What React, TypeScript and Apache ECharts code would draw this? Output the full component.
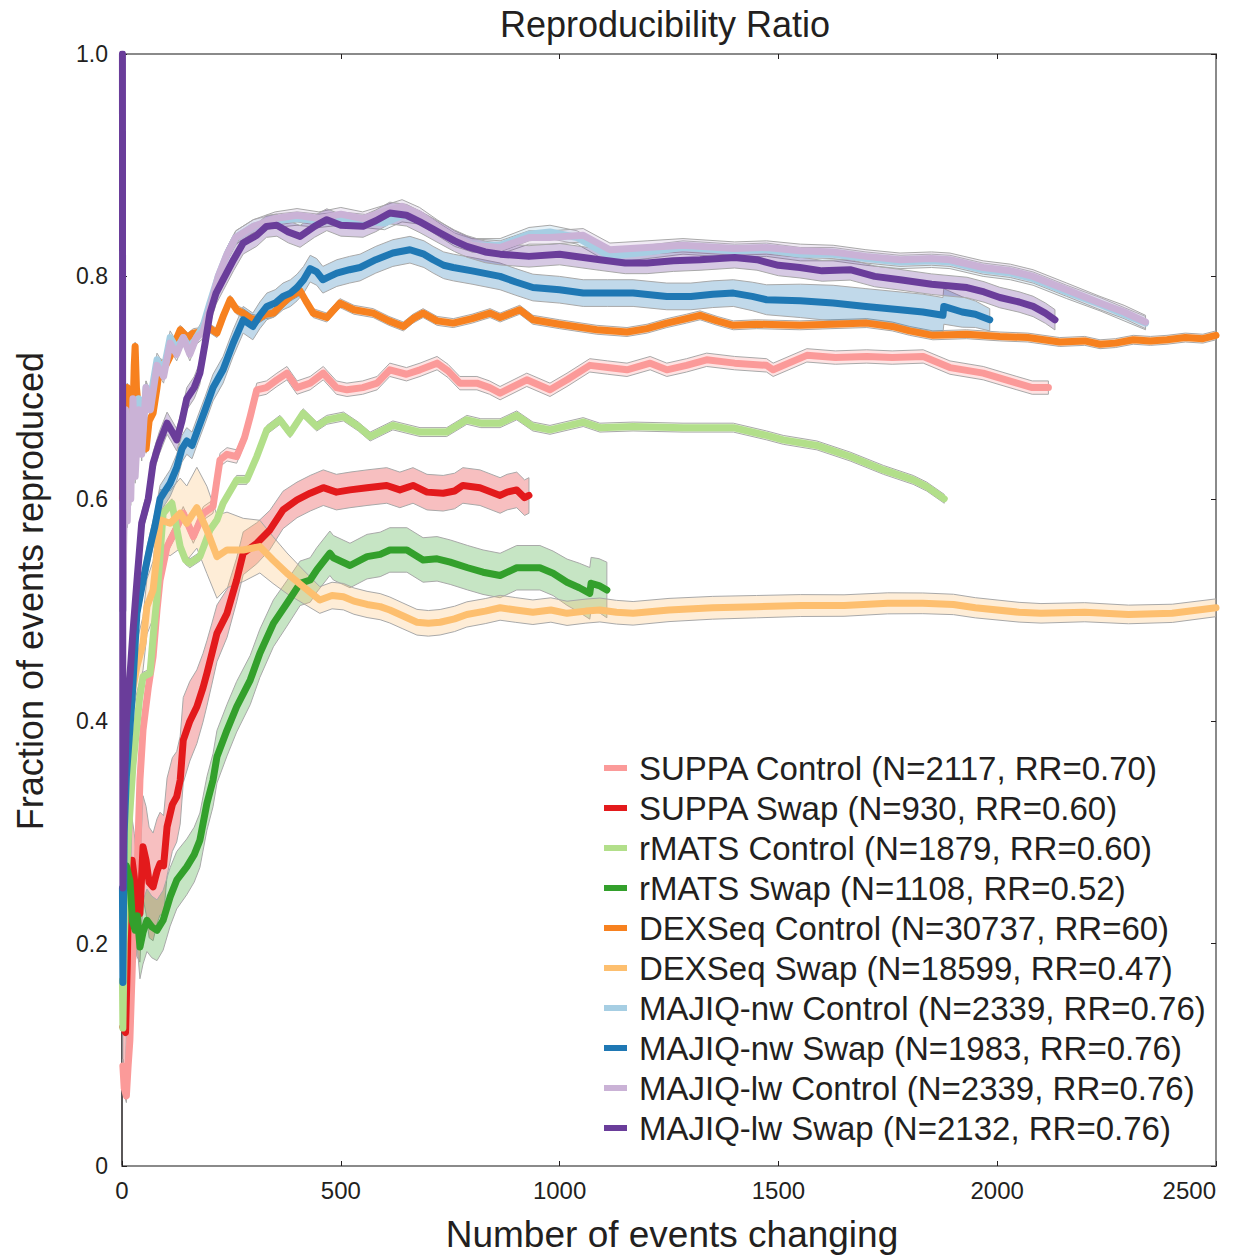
import React, { useEffect, useRef } from "react";
import * as echarts from "echarts";

// ---------- data (x = number of events changing, y = fraction reproduced) ----------
const seriesNames = [
  "SUPPA Control (N=2117, RR=0.70)",
  "SUPPA Swap (N=930, RR=0.60)",
  "rMATS Control (N=1879, RR=0.60)",
  "rMATS Swap (N=1108, RR=0.52)",
  "DEXSeq Control (N=30737, RR=60)",
  "DEXSeq Swap (N=18599, RR=0.47)",
  "MAJIQ-nw Control (N=2339, RR=0.76)",
  "MAJIQ-nw Swap (N=1983, RR=0.76)",
  "MAJIQ-lw Control (N=2339, RR=0.76)",
  "MAJIQ-lw Swap (N=2132, RR=0.76)",
];

const seriesColors = [
  "#fb9a99", "#e31a1c", "#b2df8a", "#33a02c", "#f7811f",
  "#fdbf6f", "#a6cee3", "#1f78b4", "#cab2d6", "#6a3d9a",
];

const xTicks = [0, 500, 1000, 1500, 2000, 2500];
const yTicks = [0, 0.2, 0.4, 0.6, 0.8, 1.0];

const suppaControl = [
  [2, 0.09], [5, 0.07], [10, 0.063], [14, 0.09], [18, 0.113], [25, 0.197], [30, 0.23], [34, 0.257],
  [41, 0.347], [48, 0.392], [60, 0.43], [71, 0.458], [80, 0.5], [87, 0.527], [103, 0.557], [120, 0.57],
  [140, 0.587], [163, 0.566], [186, 0.587], [208, 0.593], [217, 0.617], [224, 0.635], [240, 0.64],
  [262, 0.638], [280, 0.655], [293, 0.674], [308, 0.698], [330, 0.7], [354, 0.707], [377, 0.713],
  [400, 0.7], [430, 0.704], [460, 0.713], [490, 0.7], [514, 0.698], [550, 0.7], [583, 0.704],
  [612, 0.716], [650, 0.712], [681, 0.716], [720, 0.722], [745, 0.715], [772, 0.704], [811, 0.704],
  [840, 0.7], [864, 0.695], [925, 0.707], [978, 0.698], [1017, 0.707], [1069, 0.72], [1110, 0.718],
  [1154, 0.716], [1207, 0.722], [1245, 0.716], [1290, 0.72], [1336, 0.725], [1400, 0.722], [1473, 0.72],
  [1488, 0.716], [1565, 0.729], [1630, 0.727], [1702, 0.728], [1760, 0.727], [1831, 0.728], [1892, 0.718],
  [1968, 0.713], [2045, 0.704], [2080, 0.7], [2117, 0.7],
];

const suppaSwap = [
  [2, 0.125], [8, 0.12], [12, 0.18], [16, 0.27], [20, 0.23], [23, 0.275], [28, 0.26], [34, 0.23],
  [41, 0.227], [48, 0.287], [55, 0.275], [62, 0.255], [71, 0.251], [80, 0.265], [87, 0.272], [95, 0.27],
  [103, 0.305], [115, 0.325], [125, 0.332], [133, 0.347], [140, 0.383], [155, 0.4], [171, 0.413],
  [185, 0.43], [194, 0.443], [205, 0.46], [217, 0.479], [240, 0.497], [262, 0.527], [277, 0.551],
  [308, 0.56], [338, 0.572], [368, 0.59], [400, 0.599], [430, 0.605], [460, 0.61], [490, 0.606],
  [521, 0.608], [560, 0.61], [605, 0.612], [635, 0.608], [665, 0.612], [697, 0.606], [734, 0.605],
  [760, 0.607], [779, 0.612], [818, 0.61], [864, 0.603], [880, 0.606], [902, 0.608], [920, 0.601],
  [930, 0.603],
];

const rmatsControl = [
  [1, 0.167], [2, 0.124], [5, 0.2], [10, 0.26], [15, 0.3], [20, 0.33], [25, 0.36], [30, 0.38],
  [40, 0.42], [48, 0.44], [64, 0.443], [72, 0.48], [80, 0.512], [94, 0.587], [114, 0.596], [133, 0.557],
  [145, 0.545], [155, 0.542], [178, 0.548], [201, 0.572], [217, 0.581], [231, 0.596], [262, 0.617],
  [285, 0.617], [308, 0.638], [331, 0.662], [361, 0.671], [384, 0.659], [414, 0.677], [445, 0.665],
  [468, 0.671], [506, 0.674], [540, 0.665], [567, 0.656], [619, 0.666], [681, 0.66], [742, 0.66],
  [788, 0.671], [820, 0.668], [864, 0.668], [902, 0.675], [939, 0.665], [978, 0.662], [1054, 0.669],
  [1092, 0.664], [1168, 0.665], [1282, 0.664], [1397, 0.664], [1473, 0.657], [1511, 0.653],
  [1588, 0.648], [1664, 0.638], [1740, 0.626], [1808, 0.617], [1839, 0.611], [1879, 0.6],
];

const rmatsSwap = [
  [10, 0.27], [18, 0.257], [24, 0.22], [30, 0.212], [35, 0.225], [41, 0.197], [48, 0.21], [57, 0.221],
  [68, 0.215], [80, 0.212], [94, 0.221], [110, 0.242], [125, 0.257], [148, 0.269], [165, 0.28],
  [178, 0.293], [194, 0.326], [208, 0.347], [217, 0.368], [240, 0.392], [262, 0.413], [293, 0.437],
  [315, 0.461], [346, 0.488], [377, 0.506], [407, 0.524], [430, 0.527], [445, 0.536], [475, 0.551],
  [483, 0.547], [521, 0.54], [560, 0.548], [590, 0.55], [612, 0.554], [651, 0.554], [688, 0.545],
  [720, 0.546], [750, 0.543], [790, 0.538], [825, 0.534], [864, 0.531], [902, 0.538], [955, 0.538],
  [985, 0.533], [1017, 0.525], [1045, 0.52], [1069, 0.515], [1072, 0.524], [1090, 0.522], [1108, 0.518],
];

const dexseqControl = [
  [1, 0.6], [3, 0.69], [7, 0.68], [12, 0.7], [18, 0.69], [24, 0.66], [28, 0.72], [30, 0.737], [33, 0.7],
  [40, 0.67], [48, 0.66], [55, 0.645], [62, 0.67], [71, 0.677], [80, 0.7], [87, 0.722], [100, 0.72],
  [110, 0.728], [120, 0.74], [133, 0.752], [150, 0.745], [163, 0.749], [180, 0.75], [194, 0.755],
  [217, 0.749], [232, 0.765], [247, 0.779], [262, 0.77], [277, 0.767], [295, 0.762], [308, 0.761],
  [328, 0.766], [346, 0.767], [368, 0.776], [385, 0.782], [407, 0.787], [420, 0.778], [437, 0.767],
  [468, 0.763], [498, 0.776], [530, 0.77], [574, 0.767], [610, 0.76], [643, 0.755], [665, 0.762],
  [688, 0.767], [720, 0.76], [757, 0.758], [800, 0.762], [841, 0.767], [864, 0.763], [909, 0.77],
  [939, 0.761], [1000, 0.757], [1085, 0.752], [1154, 0.75], [1200, 0.753], [1245, 0.758], [1290, 0.762],
  [1321, 0.765], [1360, 0.76], [1397, 0.756], [1450, 0.757], [1549, 0.756], [1620, 0.757], [1702, 0.758],
  [1760, 0.755], [1800, 0.751], [1853, 0.747], [1930, 0.748], [2006, 0.746], [2070, 0.745], [2143, 0.741],
  [2200, 0.742], [2235, 0.739], [2270, 0.74], [2311, 0.743], [2350, 0.742], [2388, 0.743], [2430, 0.745],
  [2470, 0.744], [2500, 0.747],
];

const dexseqSwap = [
  [5, 0.38], [15, 0.4], [25, 0.43], [34, 0.449], [48, 0.47], [57, 0.503], [71, 0.518], [80, 0.55],
  [87, 0.581], [110, 0.578], [133, 0.587], [148, 0.578], [171, 0.592], [194, 0.572], [217, 0.548],
  [240, 0.554], [277, 0.554], [315, 0.557], [345, 0.545], [377, 0.533], [414, 0.521], [452, 0.509],
  [480, 0.513], [506, 0.512], [530, 0.508], [560, 0.505], [590, 0.503], [612, 0.5], [640, 0.495],
  [674, 0.489], [700, 0.488], [727, 0.489], [760, 0.492], [788, 0.496], [830, 0.499], [864, 0.502],
  [900, 0.5], [939, 0.498], [980, 0.5], [1017, 0.497], [1060, 0.499], [1092, 0.5], [1130, 0.498],
  [1168, 0.497], [1250, 0.5], [1350, 0.502], [1450, 0.503], [1550, 0.504], [1650, 0.504], [1750, 0.506],
  [1830, 0.506], [1900, 0.505], [1950, 0.502], [2050, 0.498], [2100, 0.497], [2200, 0.498], [2300, 0.496],
  [2400, 0.497], [2500, 0.502],
];

const majiqNwControl = [
  [2, 0.5], [5, 0.62], [8, 0.66], [12, 0.6], [16, 0.67], [20, 0.62], [25, 0.68], [30, 0.63], [38, 0.69],
  [45, 0.65], [55, 0.7], [65, 0.69], [80, 0.725], [95, 0.715], [110, 0.745], [125, 0.735], [140, 0.745],
  [155, 0.735], [170, 0.745], [185, 0.755], [200, 0.775], [220, 0.8], [240, 0.82], [260, 0.835],
  [300, 0.845], [350, 0.85], [400, 0.852], [450, 0.85], [500, 0.852], [550, 0.85], [600, 0.848],
  [640, 0.855], [680, 0.853], [720, 0.843], [760, 0.833], [800, 0.828], [864, 0.828], [930, 0.838],
  [978, 0.84], [1040, 0.835], [1115, 0.818], [1200, 0.822], [1282, 0.826], [1400, 0.823], [1473, 0.824],
  [1550, 0.82], [1625, 0.82], [1700, 0.816], [1778, 0.813], [1850, 0.814], [1892, 0.813], [1968, 0.806],
  [2030, 0.803], [2082, 0.798], [2159, 0.786], [2235, 0.775], [2290, 0.766], [2339, 0.758],
];

const majiqNwSwap = [
  [1, 0.25], [2, 0.165], [5, 0.3], [10, 0.35], [23, 0.42], [34, 0.497], [45, 0.52], [55, 0.54],
  [64, 0.557], [75, 0.575], [87, 0.6], [100, 0.608], [110, 0.614], [125, 0.628], [137, 0.645],
  [148, 0.652], [160, 0.648], [171, 0.66], [190, 0.68], [208, 0.7], [231, 0.716], [254, 0.74],
  [277, 0.761], [299, 0.755], [315, 0.765], [331, 0.773], [350, 0.776], [368, 0.782], [385, 0.785],
  [400, 0.79], [415, 0.797], [430, 0.807], [445, 0.804], [459, 0.797], [475, 0.8], [491, 0.803],
  [520, 0.806], [544, 0.808], [580, 0.815], [619, 0.821], [658, 0.824], [690, 0.82], [711, 0.815],
  [735, 0.81], [757, 0.808], [800, 0.805], [864, 0.8], [900, 0.795], [939, 0.79], [1000, 0.788],
  [1054, 0.785], [1110, 0.785], [1168, 0.785], [1245, 0.782], [1300, 0.782], [1350, 0.784], [1397, 0.785],
  [1440, 0.782], [1473, 0.779], [1550, 0.778], [1625, 0.776], [1700, 0.773], [1778, 0.77], [1830, 0.768],
  [1876, 0.765], [1878, 0.773], [1920, 0.768], [1950, 0.766], [1983, 0.761],
];

const majiqLwControl = [
  [2, 0.5], [5, 0.6], [8, 0.68], [12, 0.58], [16, 0.66], [20, 0.6], [25, 0.69], [30, 0.62], [38, 0.68],
  [45, 0.64], [55, 0.7], [65, 0.68], [80, 0.72], [95, 0.71], [110, 0.74], [125, 0.73], [140, 0.745],
  [155, 0.73], [170, 0.745], [185, 0.75], [200, 0.77], [220, 0.8], [240, 0.82], [260, 0.835], [300, 0.845],
  [350, 0.852], [400, 0.855], [450, 0.852], [500, 0.856], [550, 0.852], [600, 0.858], [640, 0.863],
  [680, 0.856], [720, 0.845], [760, 0.835], [800, 0.828], [864, 0.826], [930, 0.835], [978, 0.835],
  [1054, 0.837], [1115, 0.824], [1200, 0.826], [1282, 0.828], [1400, 0.825], [1473, 0.826], [1550, 0.823],
  [1625, 0.822], [1700, 0.818], [1778, 0.815], [1850, 0.816], [1892, 0.815], [1968, 0.808], [2030, 0.805],
  [2082, 0.8], [2159, 0.788], [2235, 0.776], [2290, 0.768], [2339, 0.759],
];

const majiqLwSwap = [
  [1, 1.0], [2, 0.25], [5, 0.33], [10, 0.4], [18, 0.44], [25, 0.48], [35, 0.53], [45, 0.578], [60, 0.6],
  [71, 0.632], [85, 0.65], [103, 0.668], [115, 0.66], [125, 0.653], [137, 0.67], [148, 0.69], [165, 0.7],
  [178, 0.713], [190, 0.74], [201, 0.767], [215, 0.785], [231, 0.797], [255, 0.815], [277, 0.83],
  [308, 0.837], [330, 0.845], [354, 0.846], [380, 0.84], [407, 0.836], [440, 0.845], [468, 0.851],
  [500, 0.846], [551, 0.845], [580, 0.85], [612, 0.857], [650, 0.855], [681, 0.849], [727, 0.839],
  [760, 0.832], [788, 0.827], [830, 0.822], [864, 0.82], [930, 0.818], [1000, 0.82], [1092, 0.815],
  [1150, 0.812], [1200, 0.812], [1260, 0.814], [1321, 0.815], [1400, 0.817], [1451, 0.815], [1500, 0.81],
  [1549, 0.808], [1600, 0.805], [1664, 0.806], [1720, 0.8], [1778, 0.797], [1850, 0.793], [1931, 0.79],
  [1970, 0.786], [2006, 0.781], [2050, 0.777], [2082, 0.773], [2110, 0.767], [2132, 0.761],
];

// confidence band half-widths: [x, half-width]
const suppaControlBand = [[0, 0.006], [2500, 0.006]];
const suppaSwapBand = [[0, 0.03], [60, 0.05], [130, 0.04], [250, 0.02], [400, 0.016], [930, 0.016]];
const rmatsControlBand = [[0, 0.004], [2500, 0.004]];
const rmatsSwapBand = [[0, 0.03], [150, 0.025], [400, 0.02], [1000, 0.02], [1108, 0.025]];
const dexseqControlBand = [[0, 0.004], [2500, 0.004]];
const dexseqSwapBand = [[0, 0.02], [120, 0.03], [200, 0.04], [300, 0.025], [450, 0.012], [2500, 0.008]];
const majiqNwControlBand = [[0, 0.006], [2500, 0.006]];
const majiqNwSwapBand = [[0, 0.012], [600, 0.012], [1400, 0.012], [1600, 0.016], [1880, 0.016], [1983, 0.01]];
const majiqLwControlBand = [[0, 0.006], [2500, 0.006]];
const majiqLwSwapBand = [[0, 0.01], [2500, 0.009]];

const allSeries = [
  suppaControl, suppaSwap, rmatsControl, rmatsSwap, dexseqControl,
  dexseqSwap, majiqNwControl, majiqNwSwap, majiqLwControl, majiqLwSwap,
];
const allBands = [
  suppaControlBand, suppaSwapBand, rmatsControlBand, rmatsSwapBand, dexseqControlBand,
  dexseqSwapBand, majiqNwControlBand, majiqNwSwapBand, majiqLwControlBand, majiqLwSwapBand,
];

// ---------- helpers ----------
function hwAt(band: number[][], x: number): number {
  if (x <= band[0][0]) return band[0][1];
  for (let i = 1; i < band.length; i++) {
    if (x <= band[i][0]) {
      const [x0, h0] = band[i - 1];
      const [x1, h1] = band[i];
      return h0 + ((h1 - h0) * (x - x0)) / (x1 - x0);
    }
  }
  return band[band.length - 1][1];
}

function rgba(hex: string, a: number): string {
  const n = parseInt(hex.slice(1), 16);
  return `rgba(${(n >> 16) & 255},${(n >> 8) & 255},${n & 255},${a})`;
}

const FONT = '"Liberation Sans", Arial, Helvetica, sans-serif';
const TXT = "#231f20";

export default function App() {
  const ref = useRef<HTMLDivElement>(null);

  useEffect(() => {
    if (!ref.current) return;
    const chart = echarts.init(ref.current, null, { renderer: "svg" });

    const series: any[] = [];
    allSeries.forEach((pts, i) => {
      const band = allBands[i];
      const col = seriesColors[i];
      series.push({
        type: "custom",
        name: "band-" + i,
        silent: true,
        clip: true,
        xAxisIndex: 0,
        yAxisIndex: 0,
        data: [[pts[0][0], pts[0][1]]],
        renderItem: (_p: any, api: any) => {
          const up = pts.map((p) => api.coord([p[0], p[1] + hwAt(band, p[0])]));
          const lo = pts.map((p) => api.coord([p[0], p[1] - hwAt(band, p[0])])).reverse();
          return {
            type: "polygon",
            shape: { points: up.concat(lo) },
            style: { fill: rgba(col, 0.28), stroke: "#a9a9a9", lineWidth: 1 },
          };
        },
      });
      series.push({
        type: "line",
        name: seriesNames[i],
        data: pts,
        xAxisIndex: 0,
        yAxisIndex: 0,
        showSymbol: false,
        symbol: "none",
        clip: true,
        color: col,
        lineStyle: { color: col, width: 7, join: "round", cap: "round" },
      });
    });

    const option: any = {
      animation: false,
      backgroundColor: "#ffffff",
      textStyle: { fontFamily: FONT },
      grid: { left: 122, right: 25, top: 54, bottom: 90, containLabel: false, outerBoundsMode: "none" },
      xAxis: [
        {
          type: "value",
          position: "bottom",
          min: xTicks[0],
          max: xTicks[xTicks.length - 1],
          interval: 500,
          axisLine: { show: true, lineStyle: { color: "#8a8a8a", width: 2 } },
          axisTick: { show: true, inside: true, length: 5, lineStyle: { color: "#231f20", width: 1 } },
          axisLabel: {
            fontSize: 24,
            color: TXT,
            fontFamily: FONT,
            margin: 12,
            alignMaxLabel: "right",
            formatter: (v: number) => String(v),
          },
          splitLine: { show: false },
        },
        {
          type: "value",
          position: "top",
          min: xTicks[0],
          max: xTicks[xTicks.length - 1],
          interval: 500,
          axisLine: { show: true, onZero: false, lineStyle: { color: "#8a8a8a", width: 2 } },
          axisTick: { show: true, inside: true, length: 5, lineStyle: { color: "#231f20", width: 1 } },
          axisLabel: { show: false },
          splitLine: { show: false },
        },
      ],
      yAxis: [
        {
          type: "value",
          position: "left",
          min: yTicks[0],
          max: yTicks[yTicks.length - 1],
          interval: 0.2,
          axisLine: { show: true, onZero: false, lineStyle: { color: "#231f20", width: 1.5 } },
          axisTick: { show: true, inside: true, length: 5, lineStyle: { color: "#231f20", width: 1 } },
          axisLabel: {
            fontSize: 23,
            color: TXT,
            fontFamily: FONT,
            margin: 14,
            formatter: (v: number) => (v === 0 ? "0" : v.toFixed(1)),
          },
          splitLine: { show: false },
        },
        {
          type: "value",
          position: "right",
          min: yTicks[0],
          max: yTicks[yTicks.length - 1],
          interval: 0.2,
          axisLine: { show: true, onZero: false, lineStyle: { color: "#8a8a8a", width: 2 } },
          axisTick: { show: true, inside: true, length: 5, lineStyle: { color: "#231f20", width: 1 } },
          axisLabel: { show: false },
          splitLine: { show: false },
        },
      ],
      legend: {
        orient: "vertical",
        left: 604,
        top: 751,
        padding: 0,
        itemGap: 6,
        itemWidth: 23,
        itemHeight: 6,
        selectedMode: false,
        icon: "rect",
        data: seriesNames.map((n) => ({ name: n, icon: "rect" })),
        textStyle: { fontSize: 33, color: TXT, fontFamily: FONT, lineHeight: 34, padding: [0, 0, 0, 7] },
      },
      graphic: [
        {
          type: "text",
          x: 665,
          y: 24,
          style: {
            text: "Reproducibility Ratio",
            fill: TXT,
            font: `36px ${FONT}`,
            textAlign: "center",
            textVerticalAlign: "middle",
          },
        },
        {
          type: "text",
          x: 672,
          y: 1234,
          style: {
            text: "Number of events changing",
            fill: TXT,
            font: `37px ${FONT}`,
            textAlign: "center",
            textVerticalAlign: "middle",
          },
        },
        {
          type: "text",
          x: 30,
          y: 591,
          rotation: Math.PI / 2,
          style: {
            text: "Fraction of events reproduced",
            fill: TXT,
            font: `36px ${FONT}`,
            textAlign: "center",
            textVerticalAlign: "middle",
          },
        },
      ],
      series,
    };

    chart.setOption(option);
    return () => chart.dispose();
  }, []);

  return (
    <div
      ref={ref}
      style={{ position: "absolute", left: 0, top: 0, width: 1241, height: 1256, background: "#fff" }}
    />
  );
}
